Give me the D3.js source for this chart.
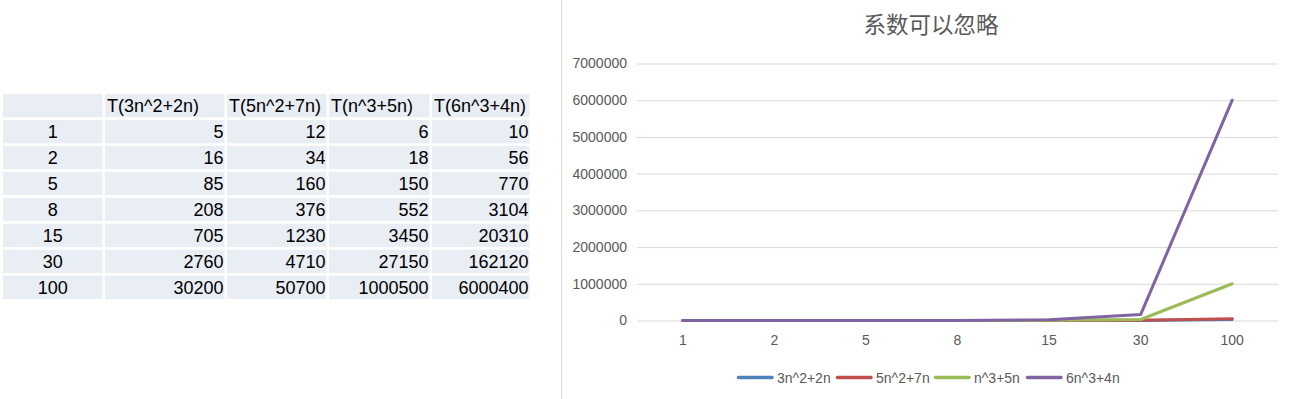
<!DOCTYPE html>
<html>
<head>
<meta charset="utf-8">
<script src="https://cdn.jsdelivr.net/npm/d3@7"></script>
<style>
  body { margin: 0; background: #fff; }
  svg { display: block; }
</style>
</head>
<body>
<div id="cont"></div>
<script>
var nValues = ["1", "2", "5", "8", "15", "30", "100"];
var headers = ["", "T(3n^2+2n)", "T(5n^2+7n)", "T(n^3+5n)", "T(6n^3+4n)"];
var seriesNames = ["3n^2+2n", "5n^2+7n", "n^3+5n", "6n^3+4n"];
var s1 = [5, 16, 85, 208, 705, 2760, 30200];
var s2 = [12, 34, 160, 376, 1230, 4710, 50700];
var s3 = [6, 18, 150, 552, 3450, 27150, 1000500];
var s4 = [10, 56, 770, 3104, 20310, 162120, 6000400];
var yTicks = [0, 1000000, 2000000, 3000000, 4000000, 5000000, 6000000, 7000000];
var title = "系数可以忽略";

var colors = ["#4F81BD", "#C0504D", "#9BBB59", "#8064A2"];
var allSeries = [s1, s2, s3, s4];

var svg = d3.select("#cont")
  .append("svg")
  .attr("width", 1298)
  .attr("height", 399);

// table on the left
var colEdges = [3, 105, 227, 329, 432, 532];
var rowY = d3.scaleBand()
  .domain(d3.range(nValues.length + 1))
  .range([94, 299])
  .paddingInner(0.1);

var rows = [headers].concat(nValues.map(function(n, i) {
  return [n].concat(allSeries.map(function(s) { return String(s[i]); }));
}));

var table = svg.append("g").attr("font-family", "Liberation Sans, Arial, sans-serif")
  .attr("font-size", 18).attr("fill", "#000");

rows.forEach(function(row, r) {
  row.forEach(function(txt, c) {
    var x0 = colEdges[c], x1 = colEdges[c + 1] - 2.5;
    table.append("rect")
      .attr("x", x0).attr("y", rowY(r))
      .attr("width", x1 - x0).attr("height", rowY.bandwidth())
      .attr("fill", "#E9EDF4");
    var t = table.append("text")
      .attr("y", rowY(r) + rowY.bandwidth() / 2)
      .attr("dy", "0.36em")
      .text(txt);
    if (r == 0) {
      t.attr("x", x0 + 2).attr("text-anchor", "start");
    } else if (c == 0) {
      t.attr("x", (x0 + x1) / 2).attr("text-anchor", "middle");
    } else {
      t.attr("x", x1 - 1).attr("text-anchor", "end");
    }
  });
});

// separator line
svg.append("line")
  .attr("x1", 561.5).attr("x2", 561.5)
  .attr("y1", 0).attr("y2", 399)
  .attr("stroke", "#D9D9D9").attr("stroke-width", 1);

// chart
var x = d3.scaleBand().domain(nValues).range([637, 1278]);
var y = d3.scaleLinear().domain([0, 7000000]).range([320.5, 63.5]);

svg.append("text")
  .attr("x", 931).attr("y", 25)
  .attr("dy", "0.36em")
  .attr("text-anchor", "middle")
  .attr("font-family", "Noto Sans CJK SC, sans-serif")
  .attr("font-size", 22.5)
  .attr("fill", "#595959")
  .text(title);

var yAxis = svg.append("g")
  .attr("transform", "translate(637,0)")
  .call(d3.axisLeft(y).tickValues(yTicks).tickSize(-641).tickPadding(10).tickFormat(d3.format("d")));
yAxis.select(".domain").remove();
yAxis.selectAll(".tick line").attr("stroke", "#D9D9D9");
yAxis.selectAll(".tick text")
  .attr("font-family", "Liberation Sans, Arial, sans-serif")
  .attr("font-size", 14)
  .attr("fill", "#595959");

var xAxis = svg.append("g")
  .attr("transform", "translate(0,320.5)")
  .call(d3.axisBottom(x).tickSize(0).tickPadding(15));
xAxis.select(".domain").remove();
xAxis.selectAll(".tick text")
  .attr("font-family", "Liberation Sans, Arial, sans-serif")
  .attr("font-size", 14)
  .attr("fill", "#595959");

var line = d3.line()
  .x(function(d, i) { return x(nValues[i]) + x.bandwidth() / 2; })
  .y(function(d) { return y(d); });

allSeries.forEach(function(s, i) {
  svg.append("path")
    .datum(s)
    .attr("d", line)
    .attr("fill", "none")
    .attr("stroke", colors[i])
    .attr("stroke-width", 3)
    .attr("stroke-linejoin", "round")
    .attr("stroke-linecap", "round");
});

// legend
var legendX = [737, 836, 934, 1026];
var legend = svg.append("g")
  .attr("font-family", "Liberation Sans, Arial, sans-serif")
  .attr("font-size", 14)
  .attr("fill", "#595959");
seriesNames.forEach(function(name, i) {
  legend.append("line")
    .attr("x1", legendX[i] + 1.5).attr("x2", legendX[i] + 35)
    .attr("y1", 377.5).attr("y2", 377.5)
    .attr("stroke", colors[i])
    .attr("stroke-width", 3.5)
    .attr("stroke-linecap", "round");
  legend.append("text")
    .attr("x", legendX[i] + 40)
    .attr("y", 377.5)
    .attr("dy", "0.36em")
    .text(name);
});
</script>
</body>
</html>
